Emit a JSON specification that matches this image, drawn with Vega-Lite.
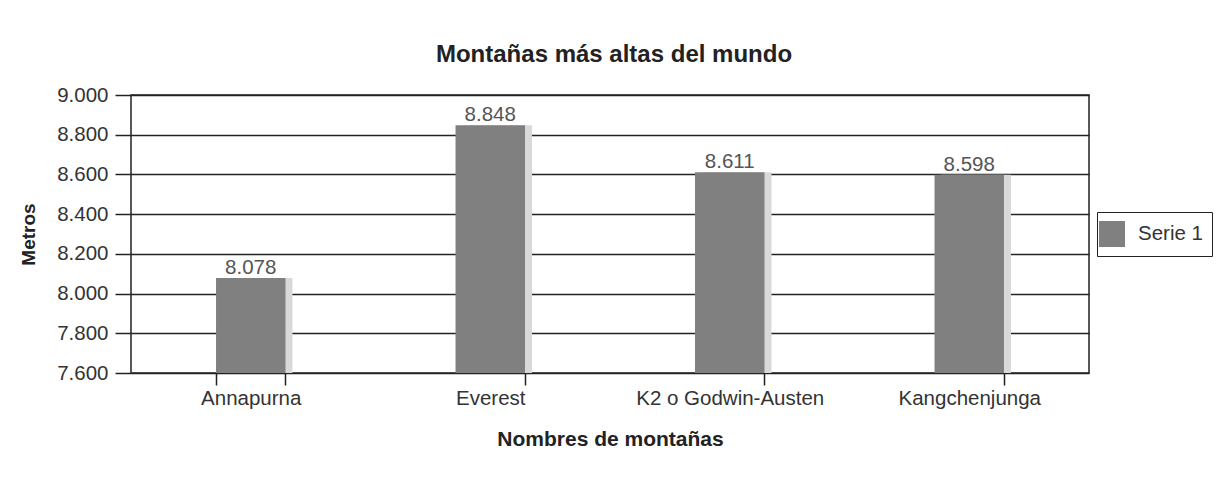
{
  "$schema": "https://vega.github.io/schema/vega-lite/v6.json",
  "autosize": "none",
  "width": 958,
  "height": 278,
  "padding": {"left": 131, "top": 95, "right": 133, "bottom": 108},
  "background": "white",
  "title": {
    "text": "Montañas más altas del mundo",
    "font": "Liberation Sans",
    "fontSize": 24,
    "fontWeight": "bold",
    "color": "#222222",
    "offset": 18,
    "dx": 4
  },
  "data": {
    "values": [
      {"montana": "Annapurna", "metros": 8078},
      {"montana": "Everest", "metros": 8848},
      {"montana": "K2 o Godwin-Austen", "metros": 8611},
      {"montana": "Kangchenjunga", "metros": 8598}
    ]
  },
  "encoding": {
    "x": {
      "field": "montana",
      "type": "nominal",
      "sort": null,
      "scale": {"paddingInner": 0.71, "paddingOuter": 0.355},
      "axis": {
        "title": "Nombres de montañas",
        "labelAngle": 0,
        "labelLimit": 0,
        "tickBand": "extent",
        "tickSize": 12,
        "tickColor": "#222222",
        "tickWidth": 1.5,
        "domain": false,
        "labelFont": "Liberation Sans",
        "labelFontSize": 20.5,
        "labelColor": "#333333",
        "labelPadding": 3,
        "titleFont": "Liberation Sans",
        "titleFontSize": 21,
        "titleFontWeight": "bold",
        "titleColor": "#222222",
        "titlePadding": 20
      }
    },
    "y": {
      "field": "metros",
      "type": "quantitative",
      "scale": {"domain": [7600, 9000], "zero": false, "nice": false},
      "axis": {
        "title": "Metros",
        "values": [7600, 7800, 8000, 8200, 8400, 8600, 8800, 9000],
        "format": ",d",
        "grid": true,
        "gridColor": "#222222",
        "gridWidth": 1.5,
        "gridOpacity": 1,
        "tickSize": 16,
        "tickColor": "#222222",
        "tickWidth": 1.5,
        "domain": false,
        "labelFont": "Liberation Sans",
        "labelFontSize": 20.5,
        "labelColor": "#333333",
        "labelPadding": 7,
        "titleFont": "Liberation Sans",
        "titleFontSize": 19,
        "titleFontWeight": "bold",
        "titleColor": "#222222",
        "titlePadding": 18
      }
    }
  },
  "layer": [
    {
      "mark": {"type": "bar", "color": "#d9d9d9", "xOffset": 7},
      "encoding": {"y2": {"datum": 7600}}
    },
    {
      "mark": {"type": "bar"},
      "encoding": {
        "y2": {"datum": 7600},
        "color": {
          "datum": "Serie 1",
          "type": "nominal",
          "scale": {"range": ["#808080"]},
          "legend": {
            "title": null,
            "orient": "none",
            "legendX": 966,
            "legendY": 117,
            "padding": 9,
            "strokeColor": "#222222",
            "symbolType": "square",
            "symbolSize": 676,
            "symbolStrokeWidth": 0,
            "symbolOffset": -7,
            "labelFont": "Liberation Sans",
            "labelFontSize": 20.5,
            "labelColor": "#333333",
            "labelOffset": 13
          }
        }
      }
    },
    {
      "mark": {"type": "text", "baseline": "alphabetic", "dy": -4, "font": "Liberation Sans", "fontSize": 20.5, "color": "#555555"},
      "encoding": {
        "text": {"field": "metros", "type": "quantitative", "format": ",d"}
      }
    }
  ],
  "config": {
    "locale": {"number": {"decimal": ",", "thousands": ".", "grouping": [3], "currency": ["", " €"]}},
    "view": {"stroke": "#222222", "strokeWidth": 1.5}
  }
}
